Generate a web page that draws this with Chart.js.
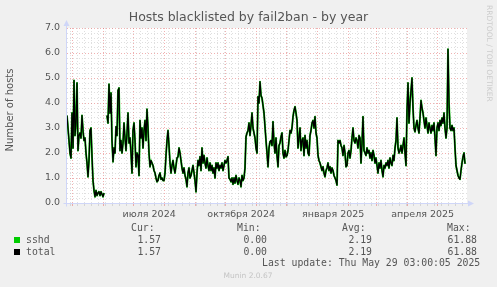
<!DOCTYPE html>
<html>
<head>
<meta charset="utf-8">
<title>Hosts blacklisted by fail2ban - by year</title>
<script src="https://cdn.jsdelivr.net/npm/chart.js@4.4.1/dist/chart.umd.min.js"></script>
<style>
  html, body { margin: 0; padding: 0; background: #f0f0f0; }
  canvas { display: block; }
</style>
</head>
<body>
<canvas id="myChart" width="497" height="287"></canvas>
<script>
//Elemento canvas del grafico anual de fail2ban
const graph = document.querySelector("#myChart");

//---- Datos ----
const chartTitle = 'Hosts blacklisted by fail2ban - by year';
const yAxisTitle = 'Number of hosts';
const startTime = Date.UTC(2024, 3, 25, 8); // borde izquierdo del grafico
const totalDays = 400;
const yMax = 7;
const xLabelTexts = ['июля 2024', 'октября 2024', 'января 2025', 'апреля 2025'];
const xLabelMonths = [[2024, 6], [2024, 9], [2025, 0], [2025, 3]];

// un valor por dia (null = sin datos)
const sshdValues = [
  3.5, 3.0, 2.5, 2.0, 1.8, 3.6, 2.2, 4.9, 2.7, 3.2, 4.8, 2.1, 2.7, 2.8, 2.6, 3.5, 2.9, 2.5, 2.6, 2.0,
  1.6, 1.05, 1.7, 2.9, 3.0, 1.85, 0.9, 0.5, 0.25, 0.5, 0.3, 0.4, 0.45, 0.3, 0.45, 0.35, 0.25, 0.4, null, null,
  3.5, 3.2, 4.75, 3.6, 4.4, 2.5, 1.65, 2.2, 2.0, 3.05, 2.7, 4.5, 4.6, 2.1, 2.5, 2.0, 2.4, 3.2, 2.6, 2.1,
  2.8, 3.6, 2.4, 2.6, 2.0, 1.2, 2.9, 3.2, 2.5, 1.45, 2.0, 1.9, 1.1, 3.3, 2.6, 3.0, 2.2, 2.9, 3.3, 2.5,
  3.75, 3.0, 2.0, 1.45, 1.7, 1.6, 1.5, 1.3, 1.2, 1.0, 0.85, 0.9, 1.1, 1.2, 0.95, 1.0, 0.9, 0.9, 1.2, 1.9,
  2.5, 2.9, 2.3, 1.6, 1.2, 1.5, 1.7, 1.4, 1.2, 1.5, 1.8, 1.85, 2.2, 2.0, 1.7, 1.4, 1.2, 1.4, 1.1, 0.95,
  0.65, 1.2, 1.4, 1.0, 1.1, 1.3, 1.5, 1.2, 0.9, 0.45, 1.2, 1.7, 1.5, 1.85, 1.3, 2.2, 1.6, 1.9, 1.6, 1.4,
  1.8, 1.5, 1.3, 1.6, 1.3, 1.5, 1.2, 1.4, 1.0, 1.6, 1.4, 1.6, 1.3, 1.5, 1.4, 1.6, 1.3, 1.5, 1.7, 1.6,
  1.7, 1.85, 1.0, 0.95, 0.85, 1.0, 0.75, 1.0, 0.8, 1.1, 0.9, 0.75, 1.0, 0.9, 0.65, 1.1, 0.9, 1.0, 1.4, 2.65,
  2.8, 2.9, 3.2, 2.7, 3.1, 3.6, 3.0, 2.8, 2.6, 2.2, 2.0, 4.25, 4.0, 4.85, 4.3, 4.2, 3.9, 3.6, 3.05, 2.5,
  2.0, 1.45, 2.2, 2.45, 2.5, 2.3, 3.25, 2.4, 2.0, 2.6, 1.9, 1.45, 2.3, 2.4, 2.65, 2.8, 2.0, 1.8, 2.1, 1.85,
  1.9, 2.1, 2.5, 2.9, 2.8, 3.0, 3.45, 3.7, 3.85, 3.6, 3.3, 2.2, 2.6, 3.0, 2.1, 2.5, 2.6, 1.9, 2.7, 2.2,
  2.5, 2.0, 1.9, 2.7, 2.9, 3.2, 3.3, 3.0, 3.45, 2.8, 2.6, 1.9, 1.7, 1.6, 1.45, 1.3, 1.45, 1.2, 1.05, 1.3,
  1.4, 1.6, 1.3, 1.45, 1.2, 1.4, 1.3, 1.1, 1.0, 0.9, 0.72, 2.5, 2.4, 2.5, 2.3, 2.2, 1.9, 2.3, 2.0, 1.45,
  1.5, 2.0, 2.1, 1.8, 2.1, 2.6, 3.0, 2.5, 2.4, 2.6, 2.5, 2.2, 2.7, 2.6, 1.6, 2.4, 3.45, 2.1, 2.0, 1.9,
  2.2, 2.0, 2.1, 1.8, 2.0, 1.7, 2.1, 1.9, 1.6, 1.8, 1.5, 1.2, 1.6, 1.4, 1.7, 1.3, 1.05, 1.5, 1.4, 1.6,
  1.5, 1.7, 1.4, 1.8, 1.6, 1.5, 1.9, 1.7, 2.2, 2.5, 3.4, 2.2, 2.0, 2.1, 2.3, 2.0, 2.3, 2.6, 2.0, 1.5,
  3.7, 4.8, 3.2, 4.0, 4.5, 5.0, 3.8, 3.0, 2.85, 3.1, 3.3, 3.0, 2.8, 3.4, 4.1, 3.8, 3.6, 3.3, 3.0, 3.4,
  3.1, 2.8, 3.2, 3.0, 2.8, 3.1, 2.9, 3.2, 2.6, 1.9, 3.0, 3.2, 2.9, 3.3, 3.1, 3.4, 3.2, 3.6, 3.0, 2.6,
  3.0, 6.15, 4.0, 3.0, 2.9, 3.1, 2.9, 3.0, 2.2, 1.5, 1.3, 1.1, 1.0, 0.95, 1.3, 1.6, 1.85, 2.0, 1.57, null
];
// solo hay una fuente, el total coincide con sshd
const totalValues = [...sshdValues];

const seriesNames = ['sshd', 'total'];
const seriesColors = ['#00cc00', '#000000'];
const curValues = [1.57, 1.57];
const minValues = [0.00, 0.00];
const avgValues = [2.19, 2.19];
const maxValues = [61.88, 61.88];
const lastUpdate = 'Last update: Thu May 29 03:00:05 2025';
const muninVersion = 'Munin 2.0.67';
const watermark = 'RRDTOOL / TOBI OETIKER';

//---- Colores y fuentes estilo munin ----
const fontColor = '#555555';
const axisColor = '#cfd6f8';
const majorGrid = 'rgba(225, 100, 100, 0.5)';
const minorGrid = 'rgba(150, 150, 150, 0.3)';
const sansFont = 'DejaVu Sans';
const monoFont = 'DejaVu Sans Mono';

//---- Posiciones del eje x en dias ----
const DAY = 86400000;
const dayOf = (t) => (t - startTime) / DAY;

const monthDays = [];
for (let y = 2024, m = 4; dayOf(Date.UTC(y, m, 1)) < totalDays; m++) {
    if (m > 11) { m = 0; y++; }
    monthDays.push(dayOf(Date.UTC(y, m, 1)));
}
const weekDays = [];
for (let t = Date.UTC(2024, 3, 29); dayOf(t) < totalDays; t += 7 * DAY) {
    if (!monthDays.some(d => Math.abs(d - dayOf(t)) < 1)) weekDays.push(dayOf(t));
}
const gridDays = [...monthDays, ...weekDays].sort((a, b) => a - b);
const labelDays = xLabelMonths.map(([y, m]) =>
    (dayOf(Date.UTC(y, m, 1)) + dayOf(Date.UTC(y, m + 1, 1))) / 2
);
const yTicks = [];
for (let k = 0; k <= yMax * 5; k++) yTicks.push(k / 5);

const isMajorY = (v) => Math.abs(v - Math.round(v)) < 1e-6;
const isMonth = (v) => monthDays.includes(v);

//---- Plugin para fondo, ejes con flechas y leyenda de munin ----
const muninPlugin = {
    id: 'munin',
    beforeDraw(chart) {
        const { ctx, chartArea: a } = chart;
        ctx.save();
        ctx.fillStyle = '#f0f0f0';
        ctx.fillRect(0, 0, chart.width, chart.height);
        ctx.fillStyle = '#ffffff';
        ctx.fillRect(a.left, a.top, a.right - a.left, a.bottom - a.top);
        ctx.restore();
    },
    beforeDatasetsDraw(chart) {
        const { ctx, chartArea: a } = chart;
        const x0 = Math.round(a.left) - 0.5;
        const y0 = Math.round(a.bottom) + 0.5;
        ctx.save();
        ctx.strokeStyle = axisColor;
        ctx.fillStyle = axisColor;
        ctx.lineWidth = 1;
        ctx.beginPath();
        ctx.moveTo(x0, y0 + 3);
        ctx.lineTo(x0, a.top - 3);
        ctx.moveTo(x0 - 3, y0);
        ctx.lineTo(a.right + 2, y0);
        ctx.stroke();
        // flechas
        ctx.beginPath();
        ctx.moveTo(x0, a.top - 8);
        ctx.lineTo(x0 - 3, a.top - 2);
        ctx.lineTo(x0 + 3, a.top - 2);
        ctx.closePath();
        ctx.fill();
        ctx.beginPath();
        ctx.moveTo(a.right + 7, y0);
        ctx.lineTo(a.right + 1, y0 - 3);
        ctx.lineTo(a.right + 1, y0 + 3);
        ctx.closePath();
        ctx.fill();
        ctx.restore();
    },
    afterDraw(chart) {
        const { ctx } = chart;
        ctx.save();
        ctx.fillStyle = fontColor;
        ctx.textBaseline = 'middle';

        // titulo del eje y
        ctx.save();
        ctx.translate(10.5, 110);
        ctx.rotate(-Math.PI / 2);
        ctx.textAlign = 'center';
        ctx.font = `10px "${sansFont}"`;
        ctx.fillText(yAxisTitle, 0, 0);
        ctx.restore();

        // leyenda con Cur/Min/Avg/Max
        ctx.font = `9.8px "${monoFont}"`;
        ctx.textAlign = 'left';
        const headX = [131, 237, 342, 447];
        ['Cur:', 'Min:', 'Avg:', 'Max:'].forEach((h, i) => ctx.fillText(h, headX[i], 228));

        const valX = [161, 267, 372, 477];
        seriesNames.forEach((name, r) => {
            const y = 240 + r * 12;
            ctx.fillStyle = seriesColors[r];
            ctx.fillRect(14, y - 3, 6, 6);
            ctx.fillStyle = fontColor;
            ctx.textAlign = 'left';
            ctx.fillText(name, 26, y);
            ctx.textAlign = 'right';
            [curValues, minValues, avgValues, maxValues].forEach((col, c) => {
                ctx.fillText(col[r].toFixed(2), valX[c], y);
            });
        });
        ctx.textAlign = 'left';
        ctx.fillText(lastUpdate, 262, 263.5);

        // marcas de agua
        ctx.fillStyle = '#c4c4c4';
        ctx.font = `7.5px "${sansFont}"`;
        ctx.textAlign = 'center';
        ctx.fillText(muninVersion, 248, 276);
        ctx.save();
        ctx.translate(488.5, 5);
        ctx.rotate(Math.PI / 2);
        ctx.textAlign = 'left';
        ctx.fillStyle = '#cccccc';
        ctx.fillText(watermark, 0, 0);
        ctx.restore();

        ctx.restore();
    }
};

//---- Generamos el grafico ----
const toPoints = (values) => values.map((v, i) => ({ x: i, y: v }));

const yearGraph = new Chart(graph, {
    type: 'line',
    data: {
        datasets: [{
            label: seriesNames[0],
            data: toPoints(sshdValues),
            borderColor: seriesColors[0],
            borderWidth: 1.9,
            order: 2
        }, {
            label: seriesNames[1],
            data: toPoints(totalValues),
            borderColor: seriesColors[1],
            borderWidth: 1.3,
            order: 1
        }]
    },
    options: {
        responsive: false,
        devicePixelRatio: 1,
        animation: false,
        events: [],
        spanGaps: false,
        elements: {
            point: { radius: 0 },
            line: { tension: 0, fill: false, borderJoinStyle: 'round' }
        },
        layout: { padding: 0 },
        plugins: {
            legend: { display: false },
            tooltip: { enabled: false },
            title: {
                display: true,
                text: chartTitle,
                color: fontColor,
                font: { family: sansFont, size: 12.5, weight: 'normal' },
                padding: { top: 10, bottom: 3 }
            }
        },
        scales: {
            x: {
                type: 'linear',
                position: 'bottom',
                weight: 0,
                min: 0,
                max: totalDays,
                afterBuildTicks: (scale) => { scale.ticks = gridDays.map(v => ({ value: v })); },
                afterFit: (scale) => { scale.height = 0; },
                ticks: { display: false },
                grid: {
                    color: (c) => isMonth(c.tick.value) ? majorGrid : minorGrid,
                    tickColor: (c) => isMonth(c.tick.value) ? majorGrid : minorGrid,
                    drawTicks: true,
                    tickLength: 3,
                    lineWidth: 1
                },
                border: { display: false, dash: [1, 2] }
            },
            xLabels: {
                type: 'linear',
                position: 'bottom',
                weight: 1,
                min: 0,
                max: totalDays,
                afterBuildTicks: (scale) => { scale.ticks = labelDays.map(v => ({ value: v })); },
                afterFit: (scale) => { scale.height = 84; },
                ticks: {
                    autoSkip: false,
                    maxRotation: 0,
                    padding: -2,
                    color: fontColor,
                    font: { family: sansFont, size: 9.5 },
                    callback: (value, index) => xLabelTexts[index]
                },
                grid: { display: false },
                border: { display: false }
            },
            y: {
                type: 'linear',
                position: 'left',
                min: 0,
                max: yMax,
                afterBuildTicks: (scale) => { scale.ticks = yTicks.map(v => ({ value: v })); },
                afterFit: (scale) => { scale.width = 67; },
                ticks: {
                    autoSkip: false,
                    padding: 7,
                    color: fontColor,
                    font: { family: sansFont, size: 9.5 },
                    callback: (value) => isMajorY(value) ? value.toFixed(1) : ''
                },
                grid: {
                    color: (c) => isMajorY(c.tick.value) ? majorGrid : minorGrid,
                    drawTicks: false,
                    lineWidth: 1
                },
                border: { display: false, dash: [1, 2] }
            },
            // margen derecho vacio (deja el titulo centrado en todo el ancho)
            yRight: {
                type: 'linear',
                position: 'right',
                afterFit: (scale) => { scale.width = 30; },
                ticks: { display: false },
                grid: { display: false },
                border: { display: false }
            }
        }
    },
    plugins: [muninPlugin]
});
</script>
</body>
</html>
